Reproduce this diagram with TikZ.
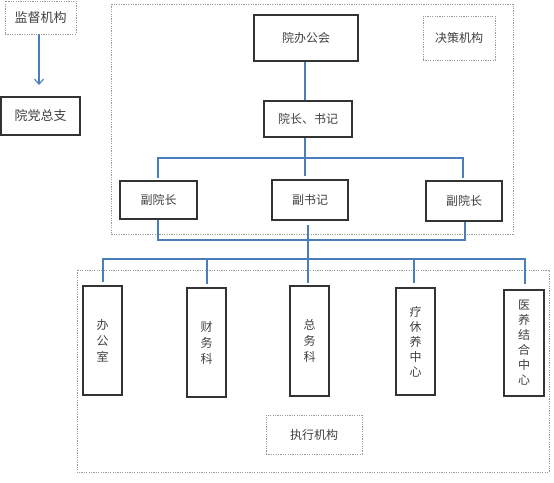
\documentclass[tikz,border=0pt]{standalone}
\usepackage{fontspec}
\setmainfont{Noto Sans CJK SC}
\usetikzlibrary{arrows.meta}
\definecolor{lblue}{HTML}{4A7EBB}
\definecolor{txt}{HTML}{404040}
\definecolor{bord}{HTML}{333333}
\begin{document}
\begin{tikzpicture}[x=1pt,y=-1pt,
  solidbox/.style={draw=bord,line width=1.1pt,inner sep=0pt,text=txt,font=\fontsize{12}{16}\selectfont,align=center},
  dotbox/.style={draw=gray!80,line width=0.6pt,dash pattern=on 1.2pt off 1.2pt,inner sep=0pt,text=txt,font=\fontsize{12}{16}\selectfont},
  frame/.style={draw=gray!80,line width=0.6pt,dash pattern=on 1.2pt off 1.2pt},
  link/.style={draw=lblue,line width=1.1pt}]
\useasboundingbox (0,0) rectangle (554,482);
% frames
\draw[frame] (111,4) rectangle (513,234);
\draw[frame] (77,270) rectangle (549,472);
% left
\node[dotbox,minimum width=71pt,minimum height=33pt,font=\fontsize{13}{16}\selectfont] (sup) at (40.5,17.5) {监督机构};
\node[solidbox,minimum width=79pt,minimum height=38pt,font=\fontsize{13}{16}\selectfont] (party) at (40.5,116) {院党总支};
\coordinate (arrEnd) at (39,85);
\draw[link,-{Straight Barb[length=5pt,width=9pt]}] (sup.south -| arrEnd) -- (arrEnd);
% decision
\node[solidbox,minimum width=104pt,minimum height=46pt] (yb) at (306,38) {院办公会};
\node[dotbox,minimum width=72pt,minimum height=44pt] (jc) at (459,38) {决策机构};
\node[solidbox,minimum width=88pt,minimum height=36pt] (yz) at (308,119) {院长、书记};
\node[solidbox,minimum width=77pt,minimum height=38pt] (fy1) at (158.5,200) {副院长};
\node[solidbox,minimum width=76pt,minimum height=40pt] (fs) at (310,200) {副书记};
\node[solidbox,minimum width=76pt,minimum height=40pt] (fy2) at (464,201) {副院长};
% execution
\node[solidbox,minimum width=39pt,minimum height=109pt] (b1) at (102.5,340.5) {办\\公\\室};
\node[solidbox,minimum width=39pt,minimum height=109pt] (b2) at (206.5,342.5) {财\\务\\科};
\node[solidbox,minimum width=39pt,minimum height=110pt] (b3) at (309.5,341) {总\\务\\科};
\node[solidbox,minimum width=39pt,minimum height=107pt,font=\fontsize{12}{15}\selectfont] (b4) at (415.5,341.5) {疗\\休\\养\\中\\心};
\node[solidbox,minimum width=40pt,minimum height=106pt,font=\fontsize{12}{15}\selectfont] (b5) at (524,343) {医\\养\\结\\合\\中\\心};
\node[dotbox,minimum width=96pt,minimum height=39pt] (zx) at (314,434.5) {执行机构};
% links top
\draw[link] (yb.south -| 305,0) -- (yz.north -| 305,0);
\coordinate (barA) at (0,158);
\coordinate (barAL) at (158,158);
\coordinate (barAR) at (463,158);
\draw[link] (yz.south -| 305,0) -- (305,176);
\draw[link] (158,178) -- (barAL) -- (barAR) -- (463,178);
% links bottom
\coordinate (barBL) at (158,240);
\coordinate (barBR) at (465,240);
\draw[link] (fy1.south -| barBL) -- (barBL) -- (barBR) -- (fy2.south -| barBR);
\coordinate (midTop) at (308,225);
\coordinate (barCL) at (103,259);
\coordinate (barCR) at (525,259);
\draw[link] (midTop) -- (308,283);
\draw[link] (103,282) -- (barCL) -- (barCR) -- (525,284);
\draw[link] (207,259) -- (207,284);
\draw[link] (414,259) -- (414,283);
\end{tikzpicture}
\end{document}
